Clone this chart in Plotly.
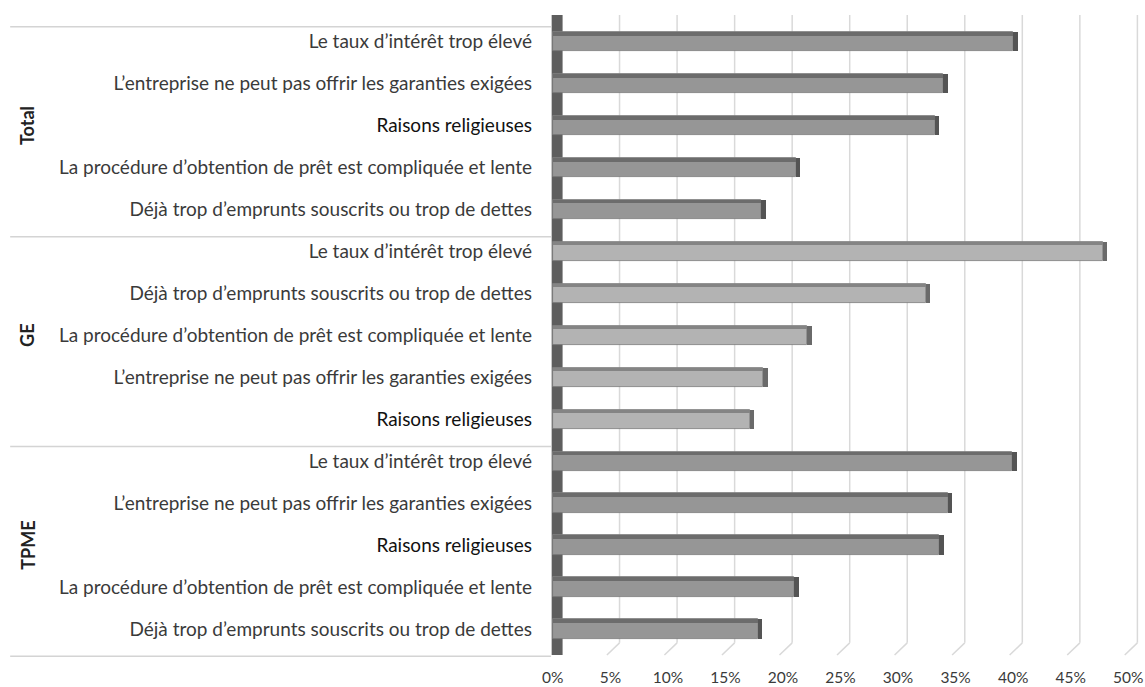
import plotly.graph_objects as go

# ---- data ----
groups = ["Total", "GE", "TPME"]
total_items = [
    "Le taux d’intérêt trop élevé",
    "L’entreprise ne peut pas offrir les garanties exigées",
    "Raisons religieuses",
    "La procédure d’obtention de prêt est compliquée et lente",
    "Déjà trop d’emprunts souscrits ou trop de dettes",
]
total_values = [40.0, 33.9, 33.2, 21.1, 18.1]
ge_items = [
    "Le taux d’intérêt trop élevé",
    "Déjà trop d’emprunts souscrits ou trop de dettes",
    "La procédure d’obtention de prêt est compliquée et lente",
    "L’entreprise ne peut pas offrir les garanties exigées",
    "Raisons religieuses",
]
ge_values = [47.8, 32.4, 22.1, 18.3, 17.1]
tpme_items = [
    "Le taux d’intérêt trop élevé",
    "L’entreprise ne peut pas offrir les garanties exigées",
    "Raisons religieuses",
    "La procédure d’obtention de prêt est compliquée et lente",
    "Déjà trop d’emprunts souscrits ou trop de dettes",
]
tpme_values = [39.9, 34.3, 33.6, 21.0, 17.8]
x_ticks = [0, 5, 10, 15, 20, 25, 30, 35, 40, 45, 50]
x_ticktext = [f"{v}%" for v in x_ticks]

group_items = [total_items, ge_items, tpme_items]
group_values = [total_values, ge_values, tpme_values]
front_colors = ["#969696", "#b3b3b3", "#969696"]
top_colors = ["#6c6c6c", "#848484", "#6c6c6c"]
end_colors = ["#545454", "#6a6a6a", "#545454"]

FONT = "Lato"
fig = go.Figure()

pos = 0
tickvals, ticktext = [], []
group_centers = []
BW = 0.46
for g, items, vals, fc, tc, ec in zip(groups, group_items, group_values,
                                      front_colors, top_colors, end_colors):
    ys = list(range(pos, pos + len(items)))
    group_centers.append((ys[0] + ys[-1]) / 2)
    for y, it in zip(ys, items):
        tickvals.append(y)
        if it == "Raisons religieuses":
            ticktext.append(f"<span style='color:#111111'>{it}</span>")
        else:
            ticktext.append(it)
    # front face
    fig.add_trace(go.Bar(x=vals, y=ys, orientation="h", width=BW,
                         marker=dict(color=fc, line=dict(color="#7a7a7a", width=0.8)),
                         showlegend=False, hoverinfo="x+y"))
    # top face (thin darker strip)
    fig.add_trace(go.Bar(x=vals, y=[y - BW / 2 + 0.045 for y in ys], orientation="h",
                         width=0.09, marker=dict(color=tc, line=dict(width=0)),
                         showlegend=False, hoverinfo="skip"))
    # right end face
    fig.add_trace(go.Bar(x=[0.4] * len(vals), base=vals, y=ys, orientation="h",
                         width=BW, marker=dict(color=ec, line=dict(width=0)),
                         showlegend=False, hoverinfo="skip"))
    pos += len(items)

n_rows = pos
DEPTH = 0.8  # back-wall x offset in axis units

shapes = []
# left dark wall strip
shapes.append(dict(type="rect", xref="x", yref="y", x0=-0.1, x1=0.85,
                   y0=-0.63, y1=n_rows - 1 + 0.62, fillcolor="#5e5e5e",
                   line=dict(width=0), layer="below"))
# back-wall gridlines with floor diagonals
for v in x_ticks[1:]:
    shapes.append(dict(type="line", xref="x", yref="y", x0=v + DEPTH, x1=v + DEPTH,
                       y0=-0.63, y1=n_rows - 1 + 0.33,
                       line=dict(color="#d9d9d9", width=1.5), layer="below"))
    shapes.append(dict(type="line", xref="x", yref="y", x0=v + DEPTH, x1=v - 0.3,
                       y0=n_rows - 1 + 0.33, y1=n_rows - 1 + 0.62,
                       line=dict(color="#d9d9d9", width=1.5), layer="below"))
# group separators on the category axis side
for b in [-0.5, 4.5, 9.5, 14.5]:
    shapes.append(dict(type="line", xref="paper", yref="y", x0=-0.877, x1=0.02,
                       y0=b + 0.15, y1=b + 0.15,
                       line=dict(color="#d4d4d4", width=1.5)))

annotations = []
for g, c in zip(groups, group_centers):
    annotations.append(dict(text=f"<b>{g}</b>", xref="paper", yref="y", x=-0.848, y=c,
                            xanchor="center", yanchor="middle",
                            textangle=-90, showarrow=False,
                            font=dict(family=FONT, size=18, color="#222222")))

fig.update_layout(
    width=1145, height=687,
    margin=dict(l=539, r=3, t=12, b=30, autoexpand=False),
    plot_bgcolor="white", paper_bgcolor="white",
    barmode="overlay", bargap=0,
    shapes=shapes, annotations=annotations,
    font=dict(family=FONT, size=16, color="#3a3a3a"),
    xaxis=dict(range=[-1.2, 51.2], tickvals=x_ticks, ticktext=x_ticktext,
               showgrid=False, zeroline=False, showline=False, ticks="",
               automargin=False, ticklabeloverflow="allow",
               ticklabelstandoff=9, tickfont=dict(size=15.5, color="#3a3a3a")),
    yaxis=dict(range=[n_rows - 1 + 0.667, -0.703], tickvals=tickvals, ticktext=ticktext,
               showgrid=False, zeroline=False, showline=False, ticks="",
               automargin=False,
               ticklabelstandoff=6, tickfont=dict(size=19, color="#3a3a3a")),
)

fig.write_html("out.html", config={"displayModeBar": False},
               post_script="document.body.style.margin='0';document.body.style.overflow='hidden';")
